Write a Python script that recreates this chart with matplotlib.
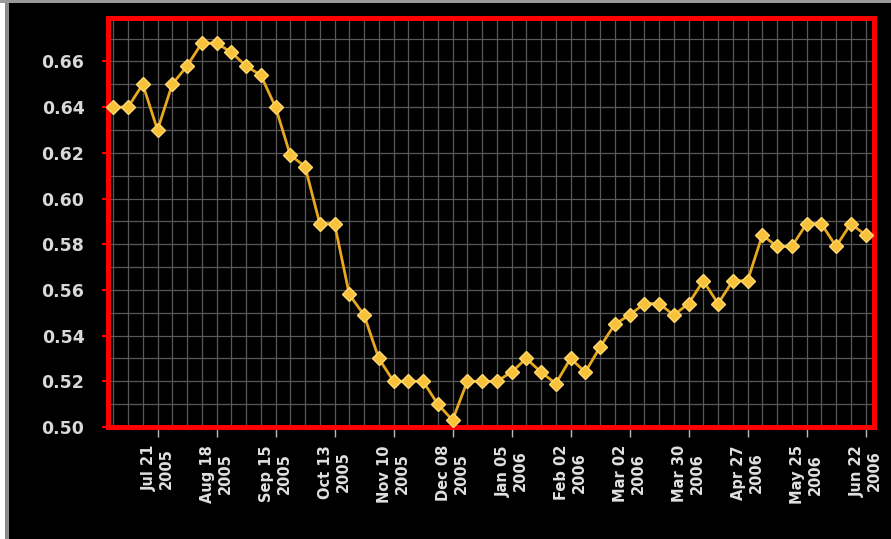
import matplotlib
matplotlib.use("Agg")
import matplotlib.pyplot as plt
from matplotlib.patches import Rectangle
from matplotlib.ticker import MultipleLocator
import pandas as pd

# weekly values, Jun 30 2005 -> Jun 22 2006
start_date = "2005-06-30"
values = [
    0.640, 0.640, 0.650, 0.630, 0.650, 0.658, 0.668, 0.668, 0.664, 0.658,
    0.654, 0.640, 0.619, 0.614, 0.589, 0.589, 0.558, 0.549, 0.530, 0.520,
    0.520, 0.520, 0.510, 0.503, 0.520, 0.520, 0.520, 0.524, 0.530, 0.524,
    0.519, 0.530, 0.524, 0.535, 0.545, 0.549, 0.554, 0.554, 0.549, 0.554,
    0.564, 0.554, 0.564, 0.564, 0.584, 0.579, 0.579, 0.589, 0.589, 0.579,
    0.589, 0.584,
]
dates = pd.date_range(start_date, periods=len(values), freq="7D")

tick_dates = ["2005-07-21", "2005-08-18", "2005-09-15", "2005-10-13",
              "2005-11-10", "2005-12-08", "2006-01-05", "2006-02-02",
              "2006-03-02", "2006-03-30", "2006-04-27", "2006-05-25",
              "2006-06-22"]
y_ticks = [0.50, 0.52, 0.54, 0.56, 0.58, 0.60, 0.62, 0.64, 0.66]

fig = plt.figure(figsize=(8.91, 5.39), dpi=100, facecolor="black")
ax = fig.add_axes([108 / 891, 1 - 427 / 539, (874 - 108) / 891, (427 - 18) / 539])
ax.set_facecolor("black")

# marco de la imagen
fig.patches.append(Rectangle((0, 0), 5 / 891, 1, transform=fig.transFigure,
                             facecolor="white", edgecolor="none", zorder=0))
fig.patches.append(Rectangle((5 / 891, 0), 4 / 891, 1, transform=fig.transFigure,
                             facecolor="#8a8a8a", edgecolor="none", zorder=0))
fig.patches.append(Rectangle((0, 1 - 3 / 539), 1, 3 / 539, transform=fig.transFigure,
                             facecolor="#9a9a9a", edgecolor="none", zorder=0))

ax.plot(dates, values, color="#e8a820", lw=2, marker="D", markersize=7,
        markerfacecolor="#f7c23a", markeredgecolor="#ffd870", markeredgewidth=1,
        zorder=3, clip_on=False)

ax.set_ylim(0.50, 0.679)
ax.set_xlim(dates[0] - pd.Timedelta(days=2.5), dates[-1] + pd.Timedelta(days=4))

ax.set_yticks(y_ticks)
ax.set_yticklabels([f"{v:.2f}" for v in y_ticks])
ax.yaxis.set_minor_locator(MultipleLocator(0.01))

ticks = pd.to_datetime(tick_dates)
ax.set_xticks(ticks)
ax.set_xticklabels([d.strftime("%b %d\n%Y") for d in ticks], rotation=90,
                   multialignment="center")
ax.set_xticks(dates, minor=True)

ax.grid(True, which="both", color="#585858", lw=0.9)
ax.set_axisbelow(True)

for s in ax.spines.values():
    s.set_color("#ff0000")
    s.set_linewidth(3.6)

ax.tick_params(axis="y", which="major", colors="#ff0000", length=4, width=1.5,
               pad=13, labelcolor="#d8d8d8", labelsize=12.5)
ax.tick_params(axis="x", which="major", colors="#bbbbbb", length=7, width=1,
               pad=6, labelcolor="#e0e0e0", labelsize=10.5)
ax.tick_params(which="minor", length=0)
for lbl in ax.get_yticklabels() + ax.get_xticklabels():
    lbl.set_fontweight("bold")

fig.savefig("out.png", dpi=100, facecolor="black")
